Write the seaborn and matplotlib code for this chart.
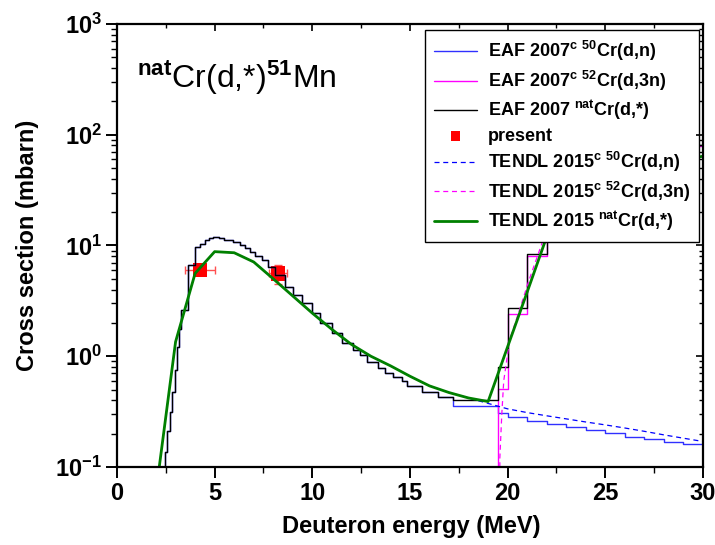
import numpy as np
import pandas as pd
import matplotlib
matplotlib.use("Agg")
import matplotlib.pyplot as plt
import seaborn as sns
from matplotlib.ticker import MultipleLocator, LogLocator, NullFormatter, FuncFormatter

# EAF 2007 group-wise cross sections (bin edges in MeV, values in mbarn per bin)
eaf_e = [2.3, 2.45, 2.58, 2.70, 2.82, 2.95, 3.07, 3.17, 3.29, 3.64, 4.01, 4.23, 4.49,
         4.69, 4.91, 5.2, 5.5, 5.95, 6.3, 6.55, 6.8, 7.07, 7.4, 7.75, 8.1, 8.6, 9.03,
         9.46, 9.97, 10.39, 10.99, 11.5, 12.1, 12.44, 12.78, 13.38, 13.72, 14.15,
         14.58, 14.83, 15.6, 16.45, 17.22, 19.5, 20, 21, 22, 23, 24, 25, 26, 27, 28,
         29, 30]
eaf_nat = [0, 0.137, 0.21, 0.315, 0.48, 0.75, 1.22, 1.75, 2.6, 6.6, 9.7, 10.4, 11.2,
           11.8, 12.0, 11.6, 11.2, 10.8, 10.1, 9.5, 8.8, 8.1, 7.4, 6.4, 5.4, 4.2, 3.57,
           3.0, 2.44, 2.0, 1.63, 1.32, 1.15, 1.03, 0.89, 0.78, 0.71, 0.65, 0.60, 0.54,
           0.48, 0.43, 0.40, 0.80, 2.7, 8.4, 20, 30, 40, 48, 56, 63, 70, 80]
# 50Cr(d,n) is the only channel below ~17 MeV, so it follows the nat curve there
eaf_50 = eaf_nat[:42] + [0.355, 0.305, 0.284, 0.262, 0.244, 0.228, 0.216, 0.201,
                         0.188, 0.178, 0.169, 0.160]

eaf52_e = [19.0, 19.5, 20, 21, 22, 23, 24, 25, 26, 27, 28, 29, 30]
eaf_52 = [0, 0.51, 2.39, 8.1, 19.8, 29.8, 39.8, 47.8, 55.8, 62.8, 69.8, 79.8]

# TENDL 2015
tendl_e = list(range(2, 31))
tendl_nat = [0.06, 1.35, 5.6, 8.8, 8.6, 7.1, 5.0, 3.5, 2.45, 1.75, 1.28, 1.0, 0.82,
             0.66, 0.54, 0.47, 0.42, 0.39, 1.22, 3.8, 12, 20, 28, 35, 42, 48, 54,
             59, 64]
tendl_50 = tendl_nat[:17] + [0.375, 0.335, 0.31, 0.29, 0.272, 0.255, 0.24, 0.225,
                             0.21, 0.195, 0.182, 0.17]
tendl52_e = [19.5, 19.6, 19.7, 19.8, 20.1, 20.6, 21.1, 21.8, 23, 25, 27, 30]
tendl_52 = [0, 0.12, 0.3, 0.6, 1.4, 2.6, 4.9, 11, 22, 38, 50, 60]

# measured points
pres_e = [4.25, 8.25]
pres_v = [6.0, 5.6]
pres_de = [0.75, 0.45]
pres_dv = [0.5, 1.1]

sns.set_theme(style="ticks")
plt.rcParams["font.family"] = ["Liberation Sans", "DejaVu Sans"]
plt.rcParams["font.weight"] = "bold"
plt.rcParams["mathtext.fontset"] = "custom"
plt.rcParams["mathtext.rm"] = "Liberation Sans:bold"
plt.rcParams["mathtext.bf"] = "Liberation Sans:bold"
plt.rcParams["mathtext.it"] = "Liberation Sans:bold"
plt.rcParams["mathtext.default"] = "rm"
for k in ["text.color", "axes.labelcolor", "xtick.color", "ytick.color", "axes.edgecolor"]:
    plt.rcParams[k] = "black"

fig = plt.figure(figsize=(7.15, 5.45), dpi=100)
ax = fig.add_axes([0.1636, 0.1431, 0.8196, 0.8129])

def steps(e, v):
    # close the last bin at its upper edge
    return e, v + [v[-1]]

x, y = steps(eaf_e, eaf_50)
sns.lineplot(x=x, y=y, ax=ax, drawstyle="steps-post", color="#3030ff", lw=1.0,
             label="EAF 2007$^{c}$ $^{50}$Cr(d,n)", estimator=None, errorbar=None)
x, y = steps(eaf52_e, eaf_52)
sns.lineplot(x=x, y=y, ax=ax, drawstyle="steps-post", color="#ff00ff", lw=1.0,
             label="EAF 2007$^{c}$ $^{52}$Cr(d,3n)", estimator=None, errorbar=None)
x, y = steps(eaf_e, eaf_nat)
sns.lineplot(x=x, y=y, ax=ax, drawstyle="steps-post", color="black", lw=1.0,
             label="EAF 2007 $^{nat}$Cr(d,*)", estimator=None, errorbar=None)

ax.errorbar(pres_e, pres_v, xerr=pres_de, yerr=pres_dv, fmt="none",
            ecolor="#ff5050", elinewidth=1.0, capsize=3, capthick=1.0, zorder=1)
sns.scatterplot(x=pres_e, y=pres_v, ax=ax, marker="s", s=110, color="red",
                edgecolor="none", label="present", zorder=1.5)

sns.lineplot(x=tendl_e, y=tendl_50, ax=ax, color="#0000ff", lw=0.9,
             linestyle=(0, (4, 3)), label="TENDL 2015$^{c}$ $^{50}$Cr(d,n)",
             estimator=None, errorbar=None)
sns.lineplot(x=tendl52_e, y=tendl_52, ax=ax, color="#ff00ff", lw=0.9,
             linestyle=(0, (4, 3)), label="TENDL 2015$^{c}$ $^{52}$Cr(d,3n)",
             estimator=None, errorbar=None)
sns.lineplot(x=tendl_e, y=tendl_nat, ax=ax, color="#008000", lw=2.0,
             label="TENDL 2015 $^{nat}$Cr(d,*)", estimator=None, errorbar=None)

ax.set_yscale("log")
ax.set_xlim(0, 30)
ax.set_ylim(0.1, 1000)

ax.xaxis.set_major_locator(MultipleLocator(5))
ax.xaxis.set_minor_locator(MultipleLocator(2.5))
ax.yaxis.set_major_locator(LogLocator(base=10, numticks=10))
ax.yaxis.set_minor_locator(LogLocator(base=10, subs=np.arange(2, 10), numticks=10))
ax.yaxis.set_minor_formatter(NullFormatter())
ax.yaxis.set_major_formatter(FuncFormatter(
    lambda v, p: r"$\mathbf{10^{%d}}$" % int(round(np.log10(v)))))

for s in ax.spines.values():
    s.set_linewidth(1.6)
    s.set_color("black")
    s.set_visible(True)
ax.tick_params(axis="both", which="major", direction="out", length=8, width=1.4,
               labelsize=17, pad=3)
ax.tick_params(axis="both", which="minor", direction="out", length=4.5, width=1.0)
ax.tick_params(axis="x", which="both", top=False)
ax.tick_params(axis="y", which="both", right=False)

# inward ticks on the top and right frame
axt = ax.twiny()
axt.set_xlim(ax.get_xlim())
axt.xaxis.set_major_locator(MultipleLocator(5))
axt.xaxis.set_minor_locator(MultipleLocator(2.5))
axt.tick_params(axis="x", which="major", direction="in", length=5, width=1.2,
                labeltop=False)
axt.tick_params(axis="x", which="minor", direction="in", length=3, width=1.0)
axr = ax.twinx()
axr.set_yscale("log")
axr.set_ylim(ax.get_ylim())
axr.yaxis.set_major_locator(LogLocator(base=10, numticks=10))
axr.yaxis.set_minor_locator(LogLocator(base=10, subs=np.arange(2, 10), numticks=10))
axr.tick_params(axis="y", which="major", direction="in", length=5, width=1.2,
                labelright=False)
axr.tick_params(axis="y", which="minor", direction="in", length=3, width=1.0)
axr.yaxis.set_minor_formatter(NullFormatter())
for a in (axt, axr):
    for s in a.spines.values():
        s.set_visible(False)

ax.set_xlabel("Deuteron energy (MeV)", fontsize=17, fontweight="bold")
ax.set_ylabel("Cross section (mbarn)", fontsize=17, fontweight="bold")
ax.xaxis.set_label_coords(0.503, -0.108)
ax.yaxis.set_label_coords(-0.133, 0.5)

ax.text(0.034, 0.855, "$^{nat}$Cr(d,*)$^{51}$Mn", transform=ax.transAxes,
        fontsize=23, fontweight="normal", va="baseline", ha="left")

handles, labels = ax.get_legend_handles_labels()
lookup = dict(zip(labels, handles))
order = ["EAF 2007$^{c}$ $^{50}$Cr(d,n)", "EAF 2007$^{c}$ $^{52}$Cr(d,3n)",
         "EAF 2007 $^{nat}$Cr(d,*)", "present", "TENDL 2015$^{c}$ $^{50}$Cr(d,n)",
         "TENDL 2015$^{c}$ $^{52}$Cr(d,3n)", "TENDL 2015 $^{nat}$Cr(d,*)"]
leg = ax.legend([lookup[k] for k in order], order, loc="upper right",
                bbox_to_anchor=(0.994, 0.986), borderaxespad=0,
                prop={"weight": "bold", "size": 13}, frameon=True, fancybox=False,
                framealpha=1, edgecolor="black", handlelength=2.4,
                labelspacing=0.3, borderpad=0.5, handletextpad=0.6)
leg.get_frame().set_linewidth(1.0)
leg.legend_handles[3].set_sizes([45])
leg.set_zorder(5)

fig.savefig("out.png", dpi=100)
